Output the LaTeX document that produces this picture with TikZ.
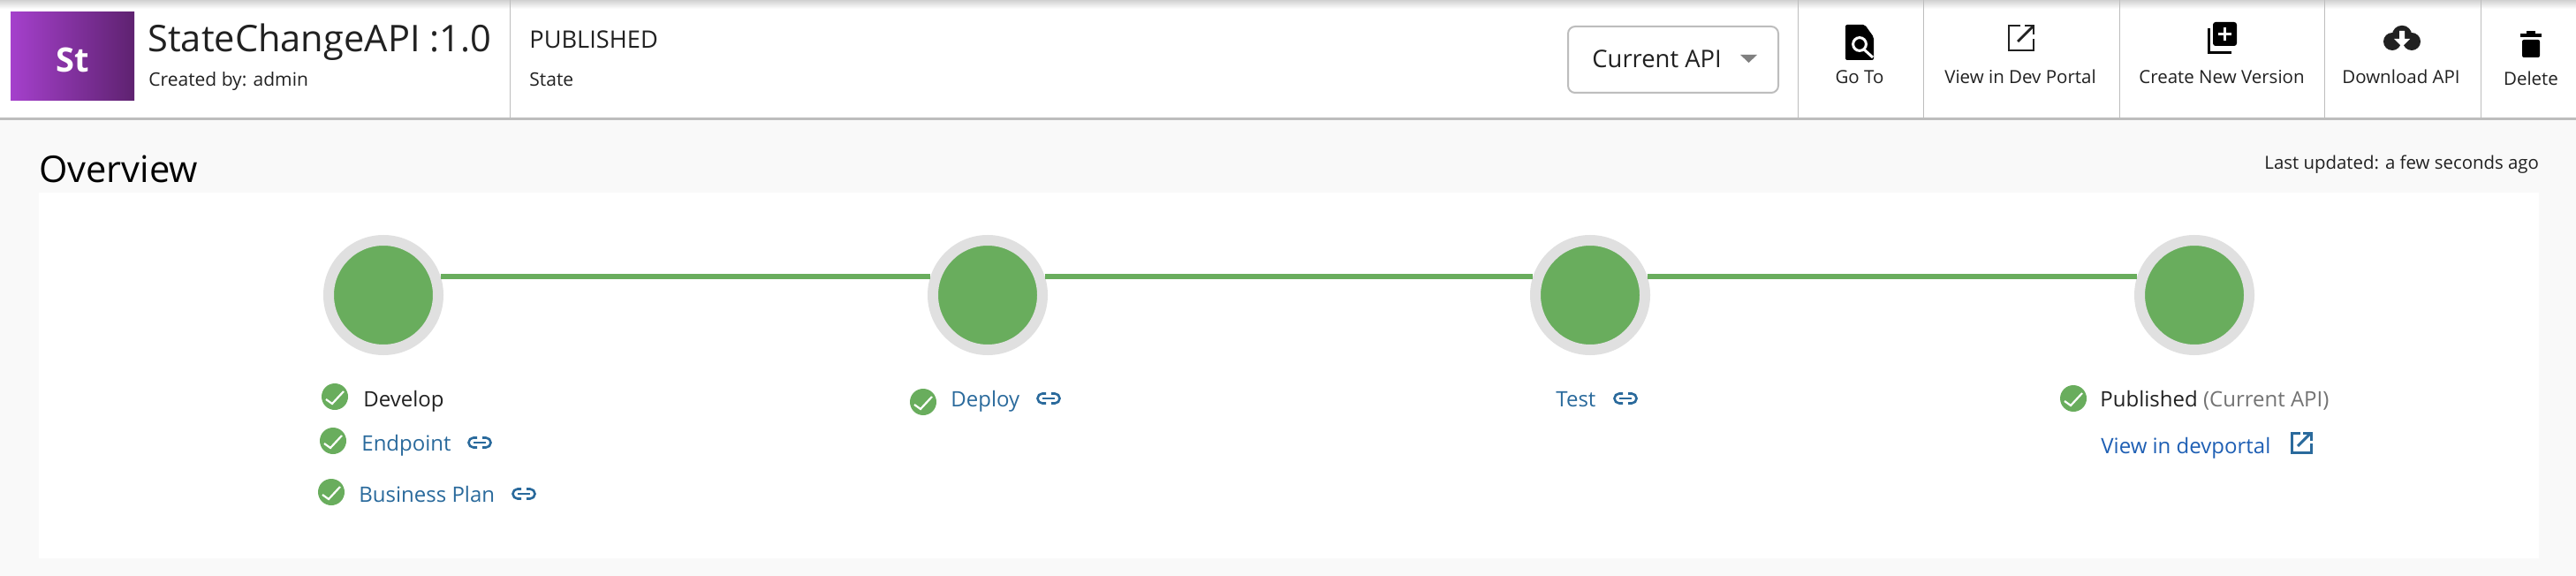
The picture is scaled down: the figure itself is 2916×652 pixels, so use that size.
\documentclass[tikz,border=0pt]{standalone}
\usepackage{fontspec}
\setmainfont{Open Sans}
\definecolor{okgreen}{HTML}{69AD5D}
\definecolor{ringgray}{HTML}{E0E0E0}
\definecolor{pagegray}{HTML}{F9F9F9}
\definecolor{rulegray}{HTML}{BDBDBD}
\definecolor{linkblue}{HTML}{2A6A9C}
\definecolor{portalblue}{HTML}{1E5FB4}
\definecolor{inkblack}{HTML}{212121}
\definecolor{tileleft}{HTML}{A540CC}
\definecolor{tileright}{HTML}{5E2270}
\tikzset{
	plaintext/.style={anchor=base west,inner sep=0pt,text=inkblack,font=\fontsize{10.5}{13}\selectfont},
	bartext/.style={plaintext,anchor=base,font=\fontsize{10.25}{13}\selectfont},
	bigtext/.style={plaintext,font=\fontsize{20.8}{25}\selectfont},
	steptext/.style={plaintext,font=\fontsize{12}{15}\selectfont},
	linktext/.style={steptext,text=linkblue},
	stepnode/.style={circle,fill=okgreen,draw=ringgray,line width=6pt,minimum size=62pt,inner sep=0pt},
	steplink/.style={okgreen,line width=3pt},
	oknode/.style={circle,fill=okgreen,minimum size=15pt,inner sep=0pt},
	okstroke/.style={white,line width=1.1pt},
	linkstroke/.style={linkblue,line width=1.3pt,rounded corners=2.7pt},
	barrule/.style={rulegray,line width=0.5pt}
}
\newcommand{\okmark}[3]{
	\node[oknode] (#1) at (#2,#3) {};
	\draw[okstroke] ([shift={(-10,3)}]#1.center) -- ([shift={(-3,8)}]#1.center) -- ([shift={(10,-6)}]#1.center);
}
\newcommand{\linkmark}[2]{
	\draw[linkstroke] (#1-3,#2-5.5) -- (#1-12.5,#2-5.5) -- (#1-12.5,#2+5.5) -- (#1-3,#2+5.5);
	\draw[linkstroke] (#1+3,#2-5.5) -- (#1+12.5,#2-5.5) -- (#1+12.5,#2+5.5) -- (#1+3,#2+5.5);
	\draw[linkstroke] (#1-7,#2) -- (#1+7,#2);
}
\begin{document}
\begin{tikzpicture}[x=0.5pt,y=-0.5pt]
	\useasboundingbox (0,0) rectangle (2916,652);
	% page and header bar
	\fill[pagegray] (0,0) rectangle (2916,652);
	\fill[white] (0,0) rectangle (2916,134);
	\fill[top color=black!18,bottom color=white] (0,0) rectangle (2916,10);
	\draw[rulegray,line width=1.5pt] (0,135) -- (2916,135);
	\fill[white] (44,218) rectangle (2874,632);
	\draw[barrule] (577,0) -- (577,134);
	\draw[barrule] (2035,0) -- (2035,134);
	\draw[barrule] (2177,0) -- (2177,134);
	\draw[barrule] (2399,0) -- (2399,134);
	\draw[barrule] (2631,0) -- (2631,134);
	\draw[barrule] (2808,0) -- (2808,134);

	% api name
	\shade[left color=tileleft,right color=tileright] (12,14) rectangle (152,114);
	\node[plaintext,anchor=base,text=white,font=\fontsize{19}{23}\selectfont\bfseries] (stname) at (82,82) {St};
	\node[bigtext] (apiname) at (167,59) {StateChangeAPI :1.0};
	\node[plaintext] (creator) at (168,98) {Created by: admin};
	\node[plaintext,font=\fontsize{13.6}{16}\selectfont] (statevalue) at (599,55) {PUBLISHED};
	\node[plaintext] (statename) at (599,98) {State};

	% version selector
	\node[draw=rulegray,line width=1pt,rounded corners=4pt,minimum width=119pt,minimum height=37.5pt,inner sep=0pt] (selector) at (1894,67.5) {};
	\node[plaintext,font=\fontsize{13.7}{17}\selectfont] (selectortext) at (1802,77) {Current API};
	\fill[black!50] (1970,62) -- (1989,62) -- (1979.5,71) -- cycle;

	% go to
	\fill[black,rounded corners=1pt] (2089,28) -- (2111,28) -- (2121,42) -- (2121,68) -- (2089,68) -- cycle;
	\draw[white,line width=1.5pt] (2105,50) circle (3.7pt);
	\draw[white,line width=1.5pt] (2110,56) -- (2120,65);
	\node[bartext] (gototext) at (2105,95) {Go To};

	% view in dev portal
	\draw[inkblack,line width=1.4pt] (2287,29) -- (2274,29) -- (2274,57) -- (2302,57) -- (2302,44);
	\draw[inkblack,line width=1.4pt] (2284,47) -- (2302,29);
	\draw[inkblack,line width=1.4pt] (2292,29) -- (2302,29) -- (2302,39);
	\node[bartext] (viewtext) at (2287,95) {View in Dev Portal};

	% create new version
	\fill[black,rounded corners=1.5pt] (2505,25) rectangle (2532,52);
	\draw[white,line width=1.5pt] (2511,38.5) -- (2526,38.5);
	\draw[white,line width=1.5pt] (2518.5,31) -- (2518.5,46);
	\draw[black,line width=1.5pt] (2500,32) -- (2500,59.5) -- (2526,59.5);
	\node[bartext] (createtext) at (2515,95) {Create New Version};

	% download api
	\fill[inkblack] (2719,40) circle (5.6pt);
	\fill[inkblack] (2708,47) circle (5pt);
	\fill[inkblack] (2730,47) circle (5pt);
	\fill[white] (2716,35) -- (2722,35) -- (2722,44) -- (2728,44) -- (2719,53) -- (2710,44) -- (2716,44) -- cycle;
	\node[bartext] (downloadtext) at (2718,95) {Download API};

	% delete
	\fill[black] (2853,38) rectangle (2877,42);
	\fill[black] (2860,35) rectangle (2870,38);
	\fill[black,rounded corners=1pt] (2855,45) rectangle (2875,65);
	\node[bartext] (deletetext) at (2865,97) {Delete};

	% overview heading
	\node[bigtext,text=black] (overview) at (44,207) {Overview};
	\node[plaintext,font=\fontsize{10.2}{13}\selectfont] (updated) at (2563,192) {Last updated: a few seconds ago};

	% steps
	\node[stepnode] (develop) at (434,334) {};
	\node[stepnode] (deploy) at (1118,334) {};
	\node[stepnode] (test) at (1800,334) {};
	\node[stepnode] (published) at (2484,334) {};
	\draw[steplink] (develop.18) -- (deploy.162);
	\draw[steplink] (deploy.18) -- (test.162);
	\draw[steplink] (test.18) -- (published.162);

	% develop items
	\okmark{developok}{379}{449}
	\node[steptext] (developtext) at (411,460) {Develop};
	\okmark{endpointok}{377}{499}
	\node[linktext] (endpointtext) at (409,510) {Endpoint};
	\linkmark{543}{501}
	\okmark{planok}{375}{557}
	\node[linktext] (plantext) at (406,568) {Business Plan};
	\linkmark{593}{559}

	% deploy and test items
	\okmark{deployok}{1045}{455}
	\node[linktext] (deploytext) at (1076,460) {Deploy};
	\linkmark{1187}{451}
	\node[linktext] (testtext) at (1761,460) {Test};
	\linkmark{1840}{451}

	% published items
	\okmark{publishedok}{2347}{451}
	\node[steptext] (publishedtext) at (2377,460) {Published \textcolor{black!55}{(Current API)}};
	\node[linktext,text=portalblue] (portaltext) at (2378,513) {View in devportal};
	\draw[linkblue,line width=1.5pt] (2604,490) -- (2594,490) -- (2594,512) -- (2616,512) -- (2616,502);
	\draw[linkblue,line width=1.5pt] (2601,505) -- (2616,490);
	\draw[linkblue,line width=1.5pt] (2607,490) -- (2616,490) -- (2616,499);
\end{tikzpicture}
\end{document}
